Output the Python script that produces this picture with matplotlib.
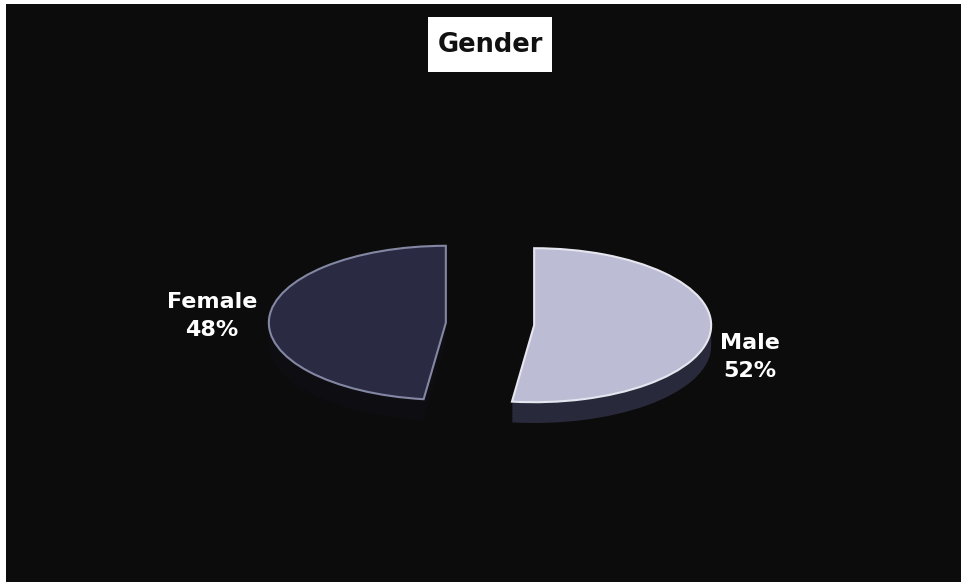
import matplotlib.pyplot as plt
from matplotlib.patches import Rectangle

# gender split
labels = ['Female', 'Male']
shares = [48, 52]
colors = ['#2a2b42', '#bcbcd4']
edge_colors = ['#8487a3', '#e6e6f0']
side_colors = ['#0e0e12', '#282a3b']

W, H = 962, 585
fig = plt.figure(figsize=(W / 100, H / 100), dpi=100, facecolor='white')
# black plot area, thin white strip on left and top like the scan
ax = fig.add_axes([6 / W, 3 / H, 1 - 6 / W, 1 - 7 / H])
ax.set_facecolor('#0c0c0c')

explode = [0.25, 0.25]
depth = 0.27

# side wall of the 3d pie: copies shifted down, drawn under the top face
steps = 8
for i in range(steps, 0, -1):
    ax.pie(shares, explode=explode, startangle=90, counterclock=True,
           colors=side_colors, center=(0, -depth * i / steps),
           wedgeprops=dict(linewidth=0), frame=True)

wedges, _ = ax.pie(shares, explode=explode, startangle=90, counterclock=True,
                   colors=colors, frame=True,
                   wedgeprops=dict(linewidth=1.5))
for w, ec in zip(wedges, edge_colors):
    w.set_edgecolor(ec)

# squash the pie into a tilted ellipse
ax.set_aspect('auto')
px_x, px_y = 177, 77
cx, cy = 490 - 6, 324 - 4
ax_w, ax_h = W - 6, H - 7
ax.set_xlim(-cx / px_x, (ax_w - cx) / px_x)
ax.set_ylim(-(ax_h - cy) / px_y, cy / px_y)
ax.set_xticks([])
ax.set_yticks([])
for s in ax.spines.values():
    s.set_visible(False)

font = ['DejaVu Sans']
label_pos = [(212, 316), (750, 357)]
for lab, val, (x, y) in zip(labels, shares, label_pos):
    fig.text(x / W, 1 - y / H, lab + '\n' + str(val) + '%', color='white',
             fontsize=16, fontweight='bold', family=font, ha='center',
             va='center', linespacing=1.5)

# title in a white box
fig.patches.append(Rectangle((428 / W, 1 - 72 / H), 124 / W, 55 / H,
                             transform=fig.transFigure, facecolor='white',
                             edgecolor='none', zorder=5))
fig.text(490 / W, 1 - 45 / H, 'Gender', color='#111111', fontsize=18.5,
         fontweight='bold', family=font, ha='center', va='center', zorder=6)

fig.savefig('out.png', dpi=100, facecolor=fig.get_facecolor())
